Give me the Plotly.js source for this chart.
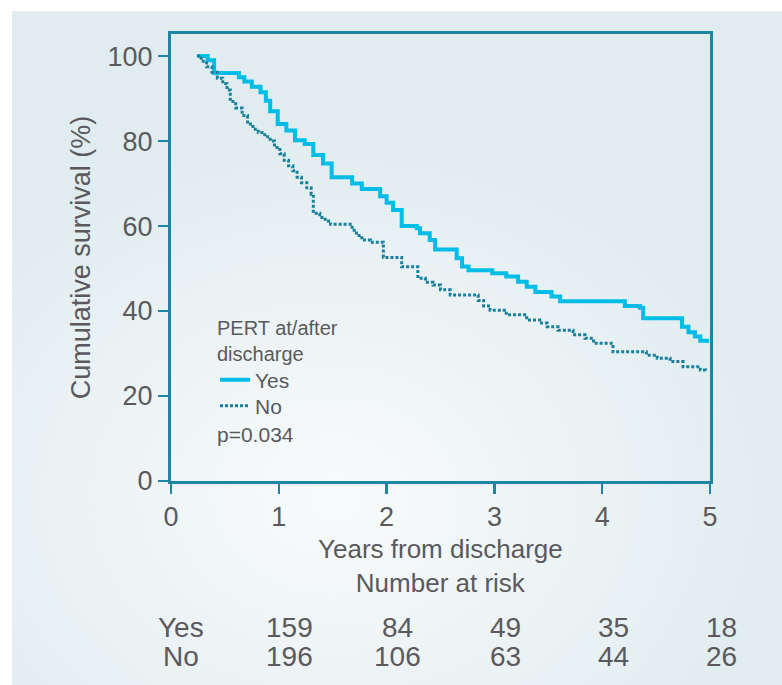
<!DOCTYPE html>
<html>
<head>
<meta charset="utf-8">
<script src="https://cdn.plot.ly/plotly-3.0.1.min.js"></script>
<style>
  html, body { margin: 0; padding: 0; background: #ffffff; }
  #panel { position: absolute; left: 12px; top: 11px; width: 770px; height: 674px;
    background: radial-gradient(ellipse 60% 55% at 42% 72%, #f8fbfc 0%, #eef4f6 45%, #e0ecef 100%); }
  #chart { position: absolute; left: 0; top: 0; width: 782px; height: 685px; }
</style>
</head>
<body>
<div id="panel"></div>
<div id="chart"></div>
<script>
// Kaplan-Meier step data (years, % surviving)
const yesYears = [0.25, 0.34, 0.40, 0.63, 0.68, 0.75, 0.83, 0.88, 0.92, 0.99, 1.07, 1.15, 1.24, 1.32, 1.41, 1.49, 1.68, 1.77, 1.94, 2.00, 2.06, 2.14, 2.28, 2.31, 2.40, 2.45, 2.65, 2.70, 2.76, 2.98, 3.11, 3.22, 3.30, 3.38, 3.53, 3.61, 4.21, 4.35, 4.38, 4.74, 4.80, 4.86, 4.91, 4.99];
const yesSurv  = [100, 99, 96, 95, 94, 92.8, 91.5, 89.5, 87, 84, 82.5, 80.2, 79.3, 76.7, 74.7, 71.5, 70, 68.7, 67, 65.5, 63.8, 60, 59.5, 58.3, 56.7, 54.5, 52.4, 50.5, 49.6, 48.9, 48.1, 46.9, 45.7, 44.5, 43.4, 42.3, 41.2, 40.8, 38.3, 36.3, 35, 34, 33, 33];

const noYears = [0.24, 0.28, 0.33, 0.38, 0.43, 0.48, 0.52, 0.55, 0.60, 0.66, 0.71, 0.76, 0.81, 0.87, 0.92, 0.96, 1.01, 1.05, 1.09, 1.13, 1.17, 1.21, 1.26, 1.30, 1.32, 1.38, 1.43, 1.48, 1.68, 1.72, 1.77, 1.85, 1.97, 2.14, 2.29, 2.36, 2.43, 2.50, 2.59, 2.85, 2.90, 2.96, 3.11, 3.30, 3.42, 3.49, 3.59, 3.73, 3.84, 3.92, 4.10, 4.41, 4.51, 4.63, 4.75, 4.91, 4.96];
const noSurv  = [100, 98.8, 97.5, 96.2, 94.8, 93.5, 92, 89.3, 87.8, 86, 84, 82.8, 82, 81, 80, 78.5, 77, 75.5, 74.2, 73, 71.5, 70.2, 69, 67.5, 63, 62, 61.2, 60.4, 59, 57.8, 56.7, 56.2, 52.6, 50.4, 47.7, 46.8, 46.1, 45, 43.8, 42.5, 41.2, 40.2, 39.1, 37.9, 37.2, 36.3, 35.5, 34.4, 33.6, 32.4, 30.4, 29.6, 28.9, 28.1, 26.9, 26.1, 25.7];

// Number at risk table
const riskTimes = [1, 2, 3, 4, 5];
const riskYes = [159, 84, 49, 35, 18];
const riskNo  = [196, 106, 63, 44, 26];
const xTicks = [0, 1, 2, 3, 4, 5];
const yTicks = [0, 20, 40, 60, 80, 100];

const frame = '#1d87a3';
const txt = '#5a5a5c';
const fontFam = '"Liberation Sans", Arial, Helvetica, sans-serif';

const traces = [
  { x: yesYears, y: yesSurv, name: 'Yes', type: 'scatter', mode: 'lines', legend: 'legend',
    line: { shape: 'hv', color: '#00bde8', width: 4 } },
  { x: noYears, y: noSurv, name: 'No', type: 'scatter', mode: 'lines', legend: 'legend2',
    line: { shape: 'hv', color: '#18809c', width: 3, dash: '3px,2px' } }
];

const annotations = [];
function rowY(px) { return (481 - px) / 447; }
function txtAnn(xref, x, ypx, text, size, anchor, xshift) {
  annotations.push({ xref: xref, yref: 'paper', x: x, xshift: xshift || 0, y: rowY(ypx), text: text, showarrow: false,
    xanchor: anchor, yanchor: 'middle', align: anchor === 'left' ? 'left' : 'center',
    font: { size: size, color: txt, family: fontFam } });
}
txtAnn('paper', 0.5, 566, 'Years from discharge<br>Number at risk', 26, 'center');
txtAnn('paper', 0.0186, 627, 'Yes', 28, 'center');
txtAnn('paper', 0.0186, 656, 'No', 28, 'center');
riskTimes.forEach((t, i) => {
  txtAnn('x', t, 627, String(riskYes[i]), 28, 'center', 11);
  txtAnn('x', t, 656, String(riskNo[i]), 28, 'center', 11);
});
txtAnn('paper', (215 - 171) / 539, 341, 'PERT at/after<br>discharge', 20, 'left');
txtAnn('paper', (215 - 171) / 539, 434, 'p=0.034', 21, 'left');

const legendBase = {
  xanchor: 'left', yanchor: 'middle',
  bgcolor: 'rgba(0,0,0,0)', borderwidth: 0,
  font: { size: 21, color: txt, family: fontFam }
};

const layout = {
  width: 782, height: 685,
  margin: { l: 171, r: 72, t: 34, b: 204 },
  paper_bgcolor: 'rgba(0,0,0,0)',
  plot_bgcolor: 'rgba(0,0,0,0)',
  font: { family: fontFam, color: txt },
  showlegend: true,
  legend: Object.assign({}, legendBase, { x: (215 - 171) / 539, y: rowY(380) }),
  legend2: Object.assign({}, legendBase, { x: (215 - 171) / 539, y: rowY(406) }),
  xaxis: {
    range: [0, 5], tickvals: xTicks, ticktext: xTicks.map(String),
    showline: true, mirror: true, linecolor: frame, linewidth: 3,
    ticks: 'outside', ticklen: 10, tickwidth: 2.5, tickcolor: frame,
    showgrid: false, zeroline: false,
    tickfont: { size: 27, color: txt, family: fontFam }
  },
  yaxis: {
    range: [0, 105.2], tickvals: yTicks, ticktext: yTicks.map(String),
    showline: true, mirror: true, linecolor: frame, linewidth: 3,
    ticks: 'outside', ticklen: 10, tickwidth: 2.5, tickcolor: frame,
    showgrid: false, zeroline: false,
    tickfont: { size: 27, color: txt, family: fontFam },
    title: { text: 'Cumulative survival (%)', font: { size: 27, color: txt, family: fontFam }, standoff: 10 }
  },
  annotations: annotations
};

Plotly.newPlot('chart', traces, layout, { displayModeBar: false, staticPlot: true });
</script>
</body>
</html>
